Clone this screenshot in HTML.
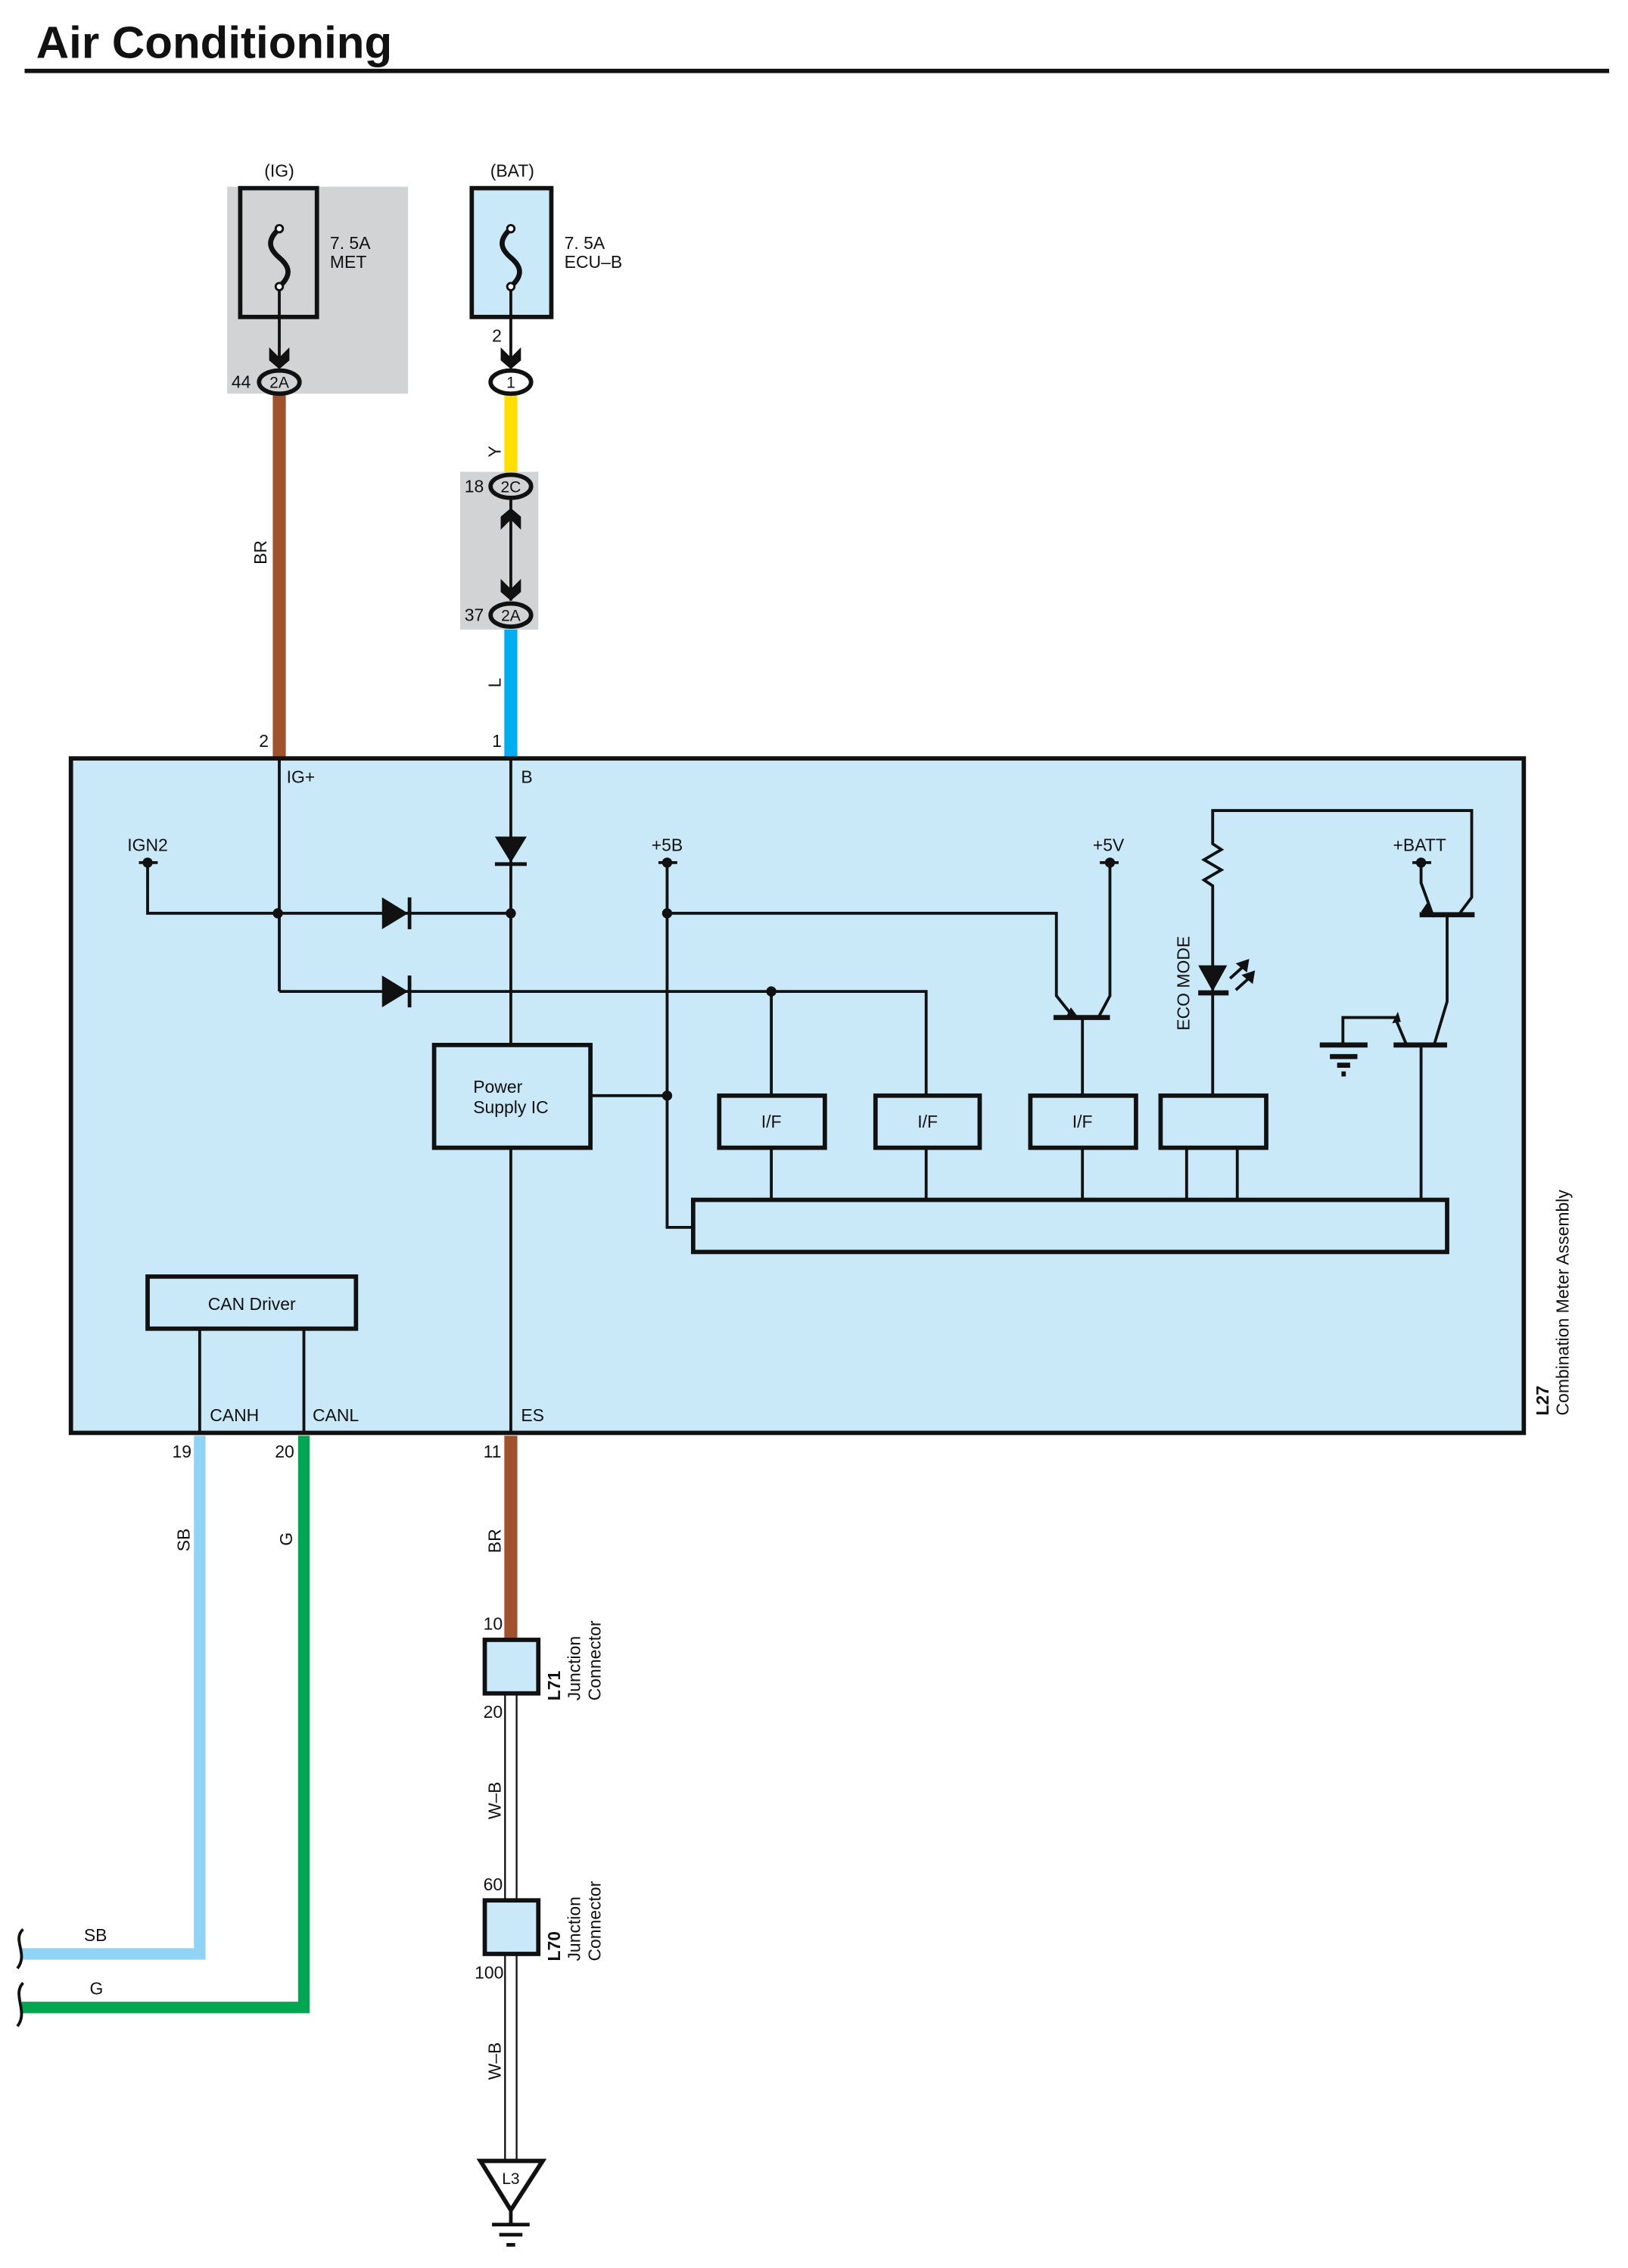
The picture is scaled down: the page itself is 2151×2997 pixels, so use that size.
<!DOCTYPE html>
<html><head><meta charset="utf-8"><style>
html,body{margin:0;padding:0;background:#fff}
svg{display:block}
text{font-family:"Liberation Sans",Arial,sans-serif;fill:#111}
</style></head><body>
<svg width="2151" height="2997" viewBox="0 0 1125 1567" preserveAspectRatio="none" xmlns="http://www.w3.org/2000/svg">
<text x="25" y="40" font-size="31" font-weight="bold" textLength="246" lengthAdjust="spacingAndGlyphs">Air Conditioning</text>
<rect x="17" y="47.5" width="1095" height="3" fill="#111"/>

<!-- IG fuse -->
<rect x="157" y="129" width="125" height="143" fill="#d1d3d4"/>
<rect x="166" y="130" width="53" height="89" fill="none" stroke="#111" stroke-width="3"/>
<text x="193" y="122" font-size="12" text-anchor="middle">(IG)</text>
<text x="228" y="172" font-size="12">7. 5A</text><text x="228" y="185" font-size="12">MET</text>
<path d="M193,158 C184,166 186,172 193,178 C200,184 202,190 193,198" fill="none" stroke="#111" stroke-width="3.5"/>
<circle cx="193" cy="158" r="2.5" fill="#fff" stroke="#111" stroke-width="1.5"/>
<circle cx="193" cy="198" r="2.5" fill="#fff" stroke="#111" stroke-width="1.5"/>
<line x1="193" y1="200" x2="193" y2="252" stroke="#111" stroke-width="2"/>
<path d="M186,240 L193,247 L200,240 L200,249 L193,255 L186,249Z" fill="#111"/>
<rect x="188.5" y="272" width="9" height="252" fill="#a0522d"/>
<ellipse cx="193" cy="264" rx="14" ry="8" fill="#d1d3d4" stroke="#111" stroke-width="3"/>
<text x="193" y="268" font-size="11" text-anchor="middle">2A</text>
<text x="160" y="268" font-size="12">44</text>
<text x="0" y="0" font-size="12" transform="translate(184,390) rotate(-90)">BR</text>

<!-- BAT fuse -->
<rect x="326" y="130" width="55" height="89" fill="#c9e8f8" stroke="#111" stroke-width="3"/>
<text x="354" y="122" font-size="12" text-anchor="middle">(BAT)</text>
<text x="390" y="172" font-size="12">7. 5A</text><text x="390" y="185" font-size="12">ECU–B</text>
<path d="M353,158 C344,166 346,172 353,178 C360,184 362,190 353,198" fill="none" stroke="#111" stroke-width="3.5"/>
<circle cx="353" cy="158" r="2.5" fill="#fff" stroke="#111" stroke-width="1.5"/>
<circle cx="353" cy="198" r="2.5" fill="#fff" stroke="#111" stroke-width="1.5"/>
<line x1="353" y1="200" x2="353" y2="252" stroke="#111" stroke-width="2"/>
<path d="M346,240 L353,247 L360,240 L360,249 L353,255 L346,249Z" fill="#111"/>
<text x="340" y="236" font-size="12">2</text>
<rect x="348.5" y="272" width="9" height="56" fill="#ffde00"/>
<text x="0" y="0" font-size="12" transform="translate(346,316) rotate(-90)">Y</text>
<rect x="318" y="326" width="54" height="109" fill="#d1d3d4"/>
<ellipse cx="353" cy="264" rx="14" ry="8" fill="#fff" stroke="#111" stroke-width="3"/>
<text x="353" y="268" font-size="11" text-anchor="middle">1</text>
<line x1="353" y1="345" x2="353" y2="415" stroke="#111" stroke-width="2"/>
<path d="M346,366 L353,359 L360,366 L360,357 L353,351 L346,357Z" fill="#111"/>
<path d="M346,400 L353,407 L360,400 L360,409 L353,415 L346,409Z" fill="#111"/>
<ellipse cx="353" cy="336" rx="14" ry="8" fill="#d1d3d4" stroke="#111" stroke-width="3"/>
<text x="353" y="340" font-size="11" text-anchor="middle">2C</text>
<text x="321" y="340" font-size="12">18</text>
<ellipse cx="353" cy="425" rx="14" ry="8" fill="#d1d3d4" stroke="#111" stroke-width="3"/>
<text x="353" y="429" font-size="11" text-anchor="middle">2A</text>
<text x="321" y="429" font-size="12">37</text>
<rect x="348.5" y="435" width="9" height="89" fill="#00adef"/>
<text x="0" y="0" font-size="12" transform="translate(346,475) rotate(-90)">L</text>

<!-- Main box -->
<rect x="49" y="524" width="1004" height="466" fill="#c9e8f8" stroke="#111" stroke-width="3"/>
<text x="179" y="516" font-size="12">2</text>
<text x="340" y="516" font-size="12">1</text>
<text x="198" y="541" font-size="12">IG+</text>
<text x="360" y="541" font-size="12">B</text>
<g stroke="#111" stroke-width="2" fill="none">
<line x1="193" y1="524" x2="193" y2="685"/>
<line x1="353" y1="524" x2="353" y2="722"/>
<polyline points="102,596 102,631 353,631"/>
<polyline points="193,685 640,685 640,757"/>
<line x1="533" y1="685" x2="533" y2="757"/>
<line x1="96" y1="596" x2="109" y2="596"/>
<line x1="455" y1="596" x2="468" y2="596"/>
<line x1="760" y1="596" x2="773" y2="596"/>
<line x1="976" y1="596" x2="989" y2="596"/>
<polyline points="461,596 461,848 479,848"/>
<polyline points="408,757 461,757"/>
<polyline points="461,631 730,631 730,688 742,703"/>
<polyline points="767,596 767,688 759,703"/>
<line x1="748" y1="703" x2="748" y2="757"/>
<line x1="353" y1="793" x2="353" y2="990"/>
<line x1="533" y1="793" x2="533" y2="829"/>
<line x1="640" y1="793" x2="640" y2="829"/>
<line x1="748" y1="793" x2="748" y2="829"/>
<line x1="820" y1="793" x2="820" y2="829"/>
<line x1="855" y1="793" x2="855" y2="829"/>
<polyline points="838,757 838,612 832,608 844,601 832,594 844,587 838,583 838,560 1017,560 1017,620 1008,632"/>
<polyline points="982,596 982,610 990,632"/>
<polyline points="1000,632 1000,692 991,722"/>
<line x1="982" y1="722" x2="982" y2="829"/>
<polyline points="972,722 964,703 928,703 928,722"/>
<line x1="138" y1="918" x2="138" y2="990"/>
<line x1="210" y1="918" x2="210" y2="990"/>
</g>
<g stroke="#111" stroke-width="3.5">
<line x1="728" y1="703" x2="767" y2="703"/>
<line x1="981" y1="632" x2="1019" y2="632"/>
<line x1="963" y1="722" x2="1000" y2="722"/>
<line x1="912" y1="722" x2="945" y2="722"/>
<line x1="919" y1="730" x2="938" y2="730"/>
<line x1="924" y1="736" x2="933" y2="736"/>
<line x1="927" y1="742" x2="930" y2="742"/>
<line x1="828" y1="686" x2="849" y2="686"/>
</g>
<path d="M740,696 L746,704 L737,702Z" fill="#111"/>
<path d="M986,624 L991,634 L982,630Z" fill="#111"/>
<path d="M966,699 L962,707 L968,706Z" fill="#111"/>
<path d="M342,578 L364,578 L353,596Z" fill="#111"/><line x1="342" y1="597" x2="364" y2="597" stroke="#111" stroke-width="2.5"/>
<path d="M264,620 L264,642 L282,631Z" fill="#111"/><line x1="283" y1="620" x2="283" y2="642" stroke="#111" stroke-width="2.5"/>
<path d="M264,674 L264,696 L282,685Z" fill="#111"/><line x1="283" y1="674" x2="283" y2="696" stroke="#111" stroke-width="2.5"/>
<path d="M828,667 L848,667 L838,685Z" fill="#111"/>
<g stroke="#111" stroke-width="2"><line x1="850" y1="676" x2="860" y2="667"/><line x1="854" y1="684" x2="864" y2="675"/></g>
<path d="M862,664 L856,666 L861,670Z M866,672 L860,674 L865,678Z" fill="#111" stroke="#111" stroke-width="2"/>
<g fill="#111">
<circle cx="192" cy="631" r="3.5"/><circle cx="353" cy="631" r="3.5"/><circle cx="533" cy="685" r="3.5"/>
<circle cx="461" cy="631" r="3.5"/><circle cx="461" cy="757" r="3.5"/>
<circle cx="102" cy="596" r="3.5"/><circle cx="461" cy="596" r="3.5"/><circle cx="767" cy="596" r="3.5"/><circle cx="982" cy="596" r="3.5"/>
</g>
<text x="102" y="588" font-size="12" text-anchor="middle">IGN2</text>
<text x="461" y="588" font-size="12" text-anchor="middle">+5B</text>
<text x="766" y="588" font-size="12" text-anchor="middle">+5V</text>
<text x="981" y="588" font-size="12" text-anchor="middle">+BATT</text>
<text x="0" y="0" font-size="12" transform="translate(822,712) rotate(-90)">ECO MODE</text>
<g fill="none" stroke="#111" stroke-width="3">
<rect x="300" y="722" width="108" height="71"/>
<rect x="497" y="757" width="73" height="36"/>
<rect x="605" y="757" width="72" height="36"/>
<rect x="712" y="757" width="73" height="36"/>
<rect x="802" y="757" width="73" height="36"/>
<rect x="479" y="829" width="521" height="36"/>
<rect x="102" y="882" width="144" height="36"/>
</g>
<text x="327" y="755" font-size="12">Power</text><text x="327" y="769" font-size="12">Supply IC</text>
<text x="533" y="779" font-size="12" text-anchor="middle">I/F</text>
<text x="641" y="779" font-size="12" text-anchor="middle">I/F</text>
<text x="748" y="779" font-size="12" text-anchor="middle">I/F</text>
<text x="174" y="905" font-size="12" text-anchor="middle">CAN Driver</text>
<text x="145" y="982" font-size="12">CANH</text>
<text x="216" y="982" font-size="12">CANL</text>
<text x="360" y="982" font-size="12">ES</text>
<text x="0" y="0" font-size="12" font-weight="bold" transform="translate(1070,978) rotate(-90)">L27</text>
<text x="0" y="0" font-size="12" transform="translate(1084,978) rotate(-90)">Combination Meter Assembly</text>

<text x="119" y="1007" font-size="12">19</text>
<text x="190" y="1007" font-size="12">20</text>
<text x="334" y="1007" font-size="12">11</text>
<polyline points="138,992 138,1350 15,1350" fill="none" stroke="#8fd3f5" stroke-width="8"/>
<polyline points="210,992 210,1387 15,1387" fill="none" stroke="#00a651" stroke-width="8"/>
<text x="0" y="0" font-size="12" transform="translate(131,1072) rotate(-90)">SB</text>
<text x="0" y="0" font-size="12" transform="translate(202,1068) rotate(-90)">G</text>
<text x="58" y="1341" font-size="12">SB</text>
<text x="62" y="1378" font-size="12">G</text>
<path d="M16,1333 C8,1340 20,1350 12,1360 M16,1370 C8,1378 20,1390 12,1400" fill="none" stroke="#111" stroke-width="2"/>
<rect x="348.5" y="992" width="9" height="141" fill="#a0522d"/>
<text x="0" y="0" font-size="12" transform="translate(346,1073) rotate(-90)">BR</text>
<text x="334" y="1126" font-size="12">10</text>
<rect x="349" y="1170" width="8" height="143" fill="#fff" stroke="#111" stroke-width="1.2"/>
<rect x="349" y="1350" width="8" height="143" fill="#fff" stroke="#111" stroke-width="1.2"/>
<rect x="335" y="1133" width="37" height="37" fill="#c9e8f8" stroke="#111" stroke-width="3"/>
<rect x="335" y="1313" width="37" height="37" fill="#c9e8f8" stroke="#111" stroke-width="3"/>
<text x="334" y="1187" font-size="12">20</text>
<text x="0" y="0" font-size="12" transform="translate(346,1257) rotate(-90)">W–B</text>
<text x="334" y="1306" font-size="12">60</text>
<text x="328" y="1367" font-size="12">100</text>
<text x="0" y="0" font-size="12" transform="translate(346,1437) rotate(-90)">W–B</text>
<text x="0" y="0" font-size="12" font-weight="bold" transform="translate(387,1175) rotate(-90)">L71</text>
<text x="0" y="0" font-size="12" transform="translate(401,1175) rotate(-90)">Junction</text>
<text x="0" y="0" font-size="12" transform="translate(415,1175) rotate(-90)">Connector</text>
<text x="0" y="0" font-size="12" font-weight="bold" transform="translate(387,1355) rotate(-90)">L70</text>
<text x="0" y="0" font-size="12" transform="translate(401,1355) rotate(-90)">Junction</text>
<text x="0" y="0" font-size="12" transform="translate(415,1355) rotate(-90)">Connector</text>
<path d="M332,1493 L375,1493 L353,1527Z" fill="#fff" stroke="#111" stroke-width="3"/>
<text x="353" y="1509" font-size="11" text-anchor="middle">L3</text>
<g stroke="#111" stroke-width="2.5"><line x1="353" y1="1527" x2="353" y2="1537"/><line x1="340" y1="1537" x2="366" y2="1537"/><line x1="345" y1="1544" x2="361" y2="1544"/><line x1="350" y1="1551" x2="356" y2="1551"/></g>
</svg>
</body></html>
